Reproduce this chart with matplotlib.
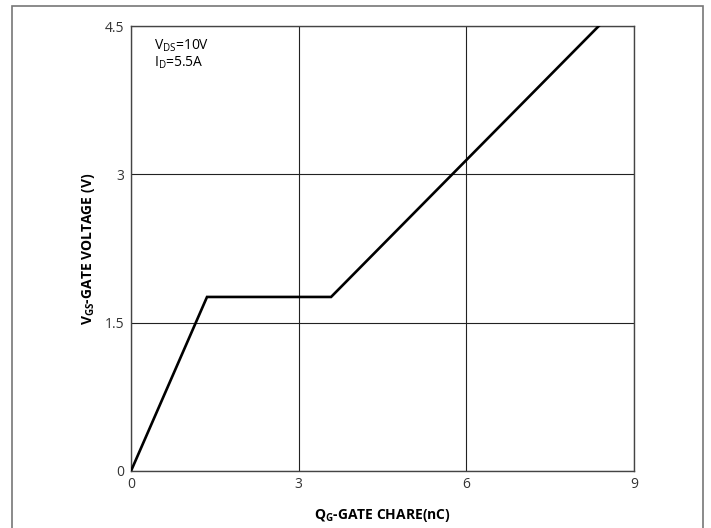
import matplotlib
matplotlib.use('Agg')
import matplotlib.pyplot as plt
from matplotlib.patches import Rectangle

plt.rcParams['font.family'] = ['Open Sans', 'DejaVu Sans']
plt.rcParams['mathtext.fontset'] = 'custom'
plt.rcParams['mathtext.rm'] = 'Open Sans'
plt.rcParams['mathtext.it'] = 'Open Sans'
plt.rcParams['mathtext.bf'] = 'Open Sans:bold'

# gate charge curve
qg = [0, 1.36, 3.58, 8.37]
vgs = [0, 1.76, 1.76, 4.5]

xticks = [0, 3, 6, 9]
yticks = [0, 1.5, 3, 4.5]
xtick_labels = ['0', '3', '6', '9']
ytick_labels = ['0', '1.5', '3', '4.5']

fig = plt.figure(figsize=(7.11, 5.28), dpi=100)
ax = fig.add_axes([131 / 711, 57 / 528, 503 / 711, 445 / 528])

ax.plot(qg, vgs, color='black', linewidth=1.9, solid_joinstyle='miter', zorder=3)

ax.set_xlim(0, 9)
ax.set_ylim(0, 4.5)
ax.set_xticks(xticks)
ax.set_xticklabels(xtick_labels)
ax.set_yticks(yticks)
ax.set_yticklabels(ytick_labels)
ax.tick_params(length=0, labelsize=10, colors='#333333')
ax.tick_params(axis='x', pad=4)
ax.tick_params(axis='y', pad=5)
ax.grid(True, color='#222222', linewidth=0.8)
for sp in ax.spines.values():
    sp.set_color('#444444')
    sp.set_linewidth(1.0)

ax.set_xlabel(r'$\mathbf{Q_{G}}$-GATE CHARE(nC)', fontsize=10, fontweight='bold', labelpad=11)
ax.set_ylabel(r'$\mathbf{V_{GS}}$-GATE VOLTAGE (V)', fontsize=10, fontweight='bold', labelpad=5)

ax.text(0.045, 0.975, r'$\mathrm{V_{DS}}$=10V' + '\n' + r'$\mathrm{I_{D}}$=5.5A',
        transform=ax.transAxes, fontsize=10, va='top', ha='left', linespacing=1.1)

# outer frame
fig.patches.append(Rectangle((11.5 / 711, -0.02), (703 - 11.5) / 711, 1.02 - 5.5 / 528,
                             transform=fig.transFigure, fill=False,
                             edgecolor='#777777', linewidth=1.2))

fig.savefig('out.png', dpi=100)
